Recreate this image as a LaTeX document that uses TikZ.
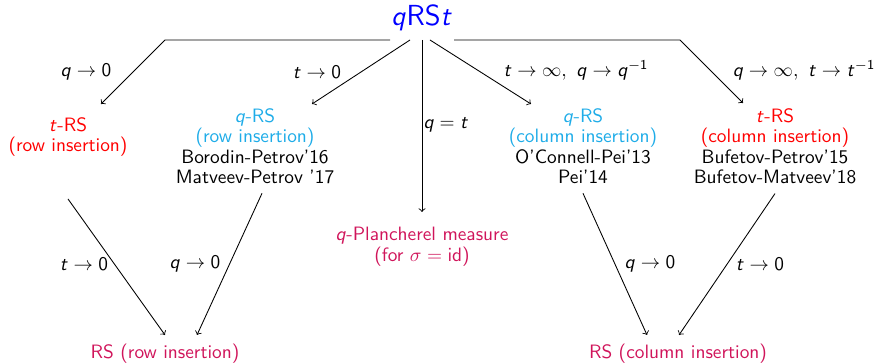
\documentclass[tikz,border=0pt]{standalone}
\usetikzlibrary{calc}
\DeclareMathAlphabet{\mathsi}{OT1}{cmss}{m}{sl}
\DeclareMathAlphabet{\mathsu}{OT1}{cmss}{m}{n}
\newcommand\Vq{\mathsi{q}}
\newcommand\Vt{\mathsi{t}}
\newcommand\Zr{\mathsu{0}}
\definecolor{qcyan}{RGB}{30,172,232}
\definecolor{tred}{RGB}{255,0,0}
\definecolor{rsred}{RGB}{208,20,90}
\definecolor{qblue}{RGB}{0,0,255}
\begin{document}
\begin{tikzpicture}[x=0.517pt,y=-0.517pt,
  every node/.style={font=\fontsize{10}{10.6}\selectfont\sffamily, inner sep=0pt, align=center},
  arr/.style={->, line width=0.45pt}]
\useasboundingbox (0,0) rectangle (880,364);

\node[font=\fontsize{15}{18}\selectfont\sffamily, text=qblue] (qrst) at (422,18) {$\Vq$RS$\Vt$};

\node[anchor=north, text=tred] (trs) at (68,117) {$\Vt$-RS\\(row insertion)};
\node[anchor=north] (qrsr) at (255,108) {\textcolor{qcyan}{$\Vq$-RS}\\\textcolor{qcyan}{(row insertion)}\\Borodin-Petrov'16\\Matveev-Petrov '17};
\node[anchor=north, text=rsred] (plan) at (422,227) {$\Vq$-Plancherel measure\\(for $\sigma=\mathsu{id}$)};
\node[anchor=north] (qrsc) at (583,108) {\textcolor{qcyan}{$\Vq$-RS}\\\textcolor{qcyan}{(column insertion)}\\O'Connell-Pei'13\\Pei'14};
\node[anchor=north] (trsc) at (775,108) {\textcolor{tred}{$\Vt$-RS}\\\textcolor{tred}{(column insertion)}\\Bufetov-Petrov'15\\Bufetov-Matveev'18};
\node[anchor=north, text=rsred] (rsr) at (165,344) {RS (row insertion)};
\node[anchor=north, text=rsred] (rsc) at (678,344) {RS (column insertion)};

% top connectors
\draw[arr] ($(qrst)+(-32,22)$) -- ++(-225,0) -- ($(trs.north)+(33,-13)$);
\draw[arr] ($(qrst)+(-12,22)$) -- ($(qrsr.north)+(57,-4)$);
\draw[arr] ($(qrst)+(0,22)$) -- ($(plan.north)+(0,-15)$);
\draw[arr] ($(qrst)+(8,22)$) -- ($(qrsc.north)+(-52,-4)$);
\draw[arr] ($(qrst)+(32,22)$) -- ++(226,0) -- ($(trsc.north)+(-32,-5)$);

% bottom connectors
\draw[arr] ($(trs.south)+(0,42)$) -- ($(rsr.north)+(0,-9)$);
\draw[arr] ($(qrsr.south)+(7,9)$) -- ($(rsr.north)+(32,-9)$);
\draw[arr] ($(qrsc.south)+(0,9)$) -- ($(rsc.north)+(-31,-9)$);
\draw[arr] ($(trsc.south)+(0,9)$) -- ($(rsc.north)+(1,-9)$);

% labels
\node (l1) at (86,72) {$\Vq\to \Zr$};
\node (l2) at (317,72) {$\Vt\to \Zr$};
\node (l3) at (446,125) {$\Vq=\Vt$};
\node (l4) at (576,70) {$\Vt\to\infty,\ \Vq\to \Vq^{-\mathsu{1}}$};
\node (l5) at (804,70) {$\Vq\to\infty,\ \Vt\to \Vt^{-\mathsu{1}}$};
\node (l6) at (84,264) {$\Vt\to \Zr$};
\node (l7) at (195,264) {$\Vq\to \Zr$};
\node (l8) at (650,264) {$\Vq\to \Zr$};
\node (l9) at (760,264) {$\Vt\to \Zr$};
\end{tikzpicture}
\end{document}
